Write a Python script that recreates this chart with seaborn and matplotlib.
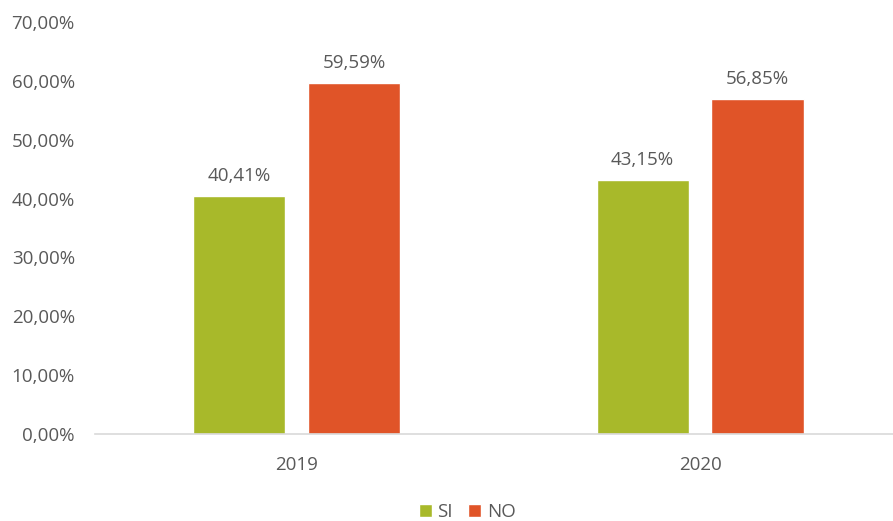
import matplotlib
matplotlib.use("Agg")
import matplotlib.pyplot as plt
import seaborn as sns
import pandas as pd
from matplotlib.ticker import FuncFormatter

years = ["2019", "2020"]
si_values = [0.4041, 0.4315]
no_values = [0.5959, 0.5685]
series = ["SI", "NO"]
colors = ["#A8B92A", "#E05428"]

df = pd.DataFrame({
    "year": years * 2,
    "value": si_values + no_values,
    "serie": ["SI"] * len(years) + ["NO"] * len(years),
})

sns.set_style("white")
plt.rcParams["font.family"] = ["Open Sans", "DejaVu Sans"]
text_color = "#595959"

fig = plt.figure(figsize=(8.93, 5.21), dpi=100)
ax = fig.add_axes([95 / 893, 1 - 434 / 521, 1 - 95 / 893, (434 - 22) / 521])

sns.barplot(data=df, x="year", y="value", hue="serie", hue_order=series,
            palette=colors, width=0.57, gap=0.197, ax=ax, saturation=1)

def pct(v, pos=None):
    return f"{v * 100:.2f}%".replace(".", ",")

for cont in ax.containers:
    ax.bar_label(cont, labels=[pct(v) for v in cont.datavalues], padding=8,
                 fontsize=13.5, color=text_color)

ax.set_xlim(-0.5, 1.478)
ax.set_ylim(0, 0.7)
ax.set_yticks([i / 10 for i in range(8)])
ax.yaxis.set_major_formatter(FuncFormatter(pct))
ax.set_xlabel("")
ax.set_ylabel("")
ax.tick_params(axis="both", length=0, labelsize=13.5, colors=text_color)
ax.tick_params(axis="y", pad=14.5)
ax.tick_params(axis="x", pad=16)
for s in ["top", "right", "left"]:
    ax.spines[s].set_visible(False)
ax.spines["bottom"].set_color("#D9D9D9")
ax.spines["bottom"].set_linewidth(1.2)

ax.legend_.remove()
handles, labels = ax.get_legend_handles_labels()
fig.legend(handles, labels, loc="center", bbox_to_anchor=(467 / 893, 1 - 512 / 521),
           ncol=2, frameon=False, fontsize=13.5, handlelength=0.7, handleheight=0.7,
           handletextpad=0.3, columnspacing=0.8, labelcolor=text_color)

fig.savefig("out.png", dpi=100)
